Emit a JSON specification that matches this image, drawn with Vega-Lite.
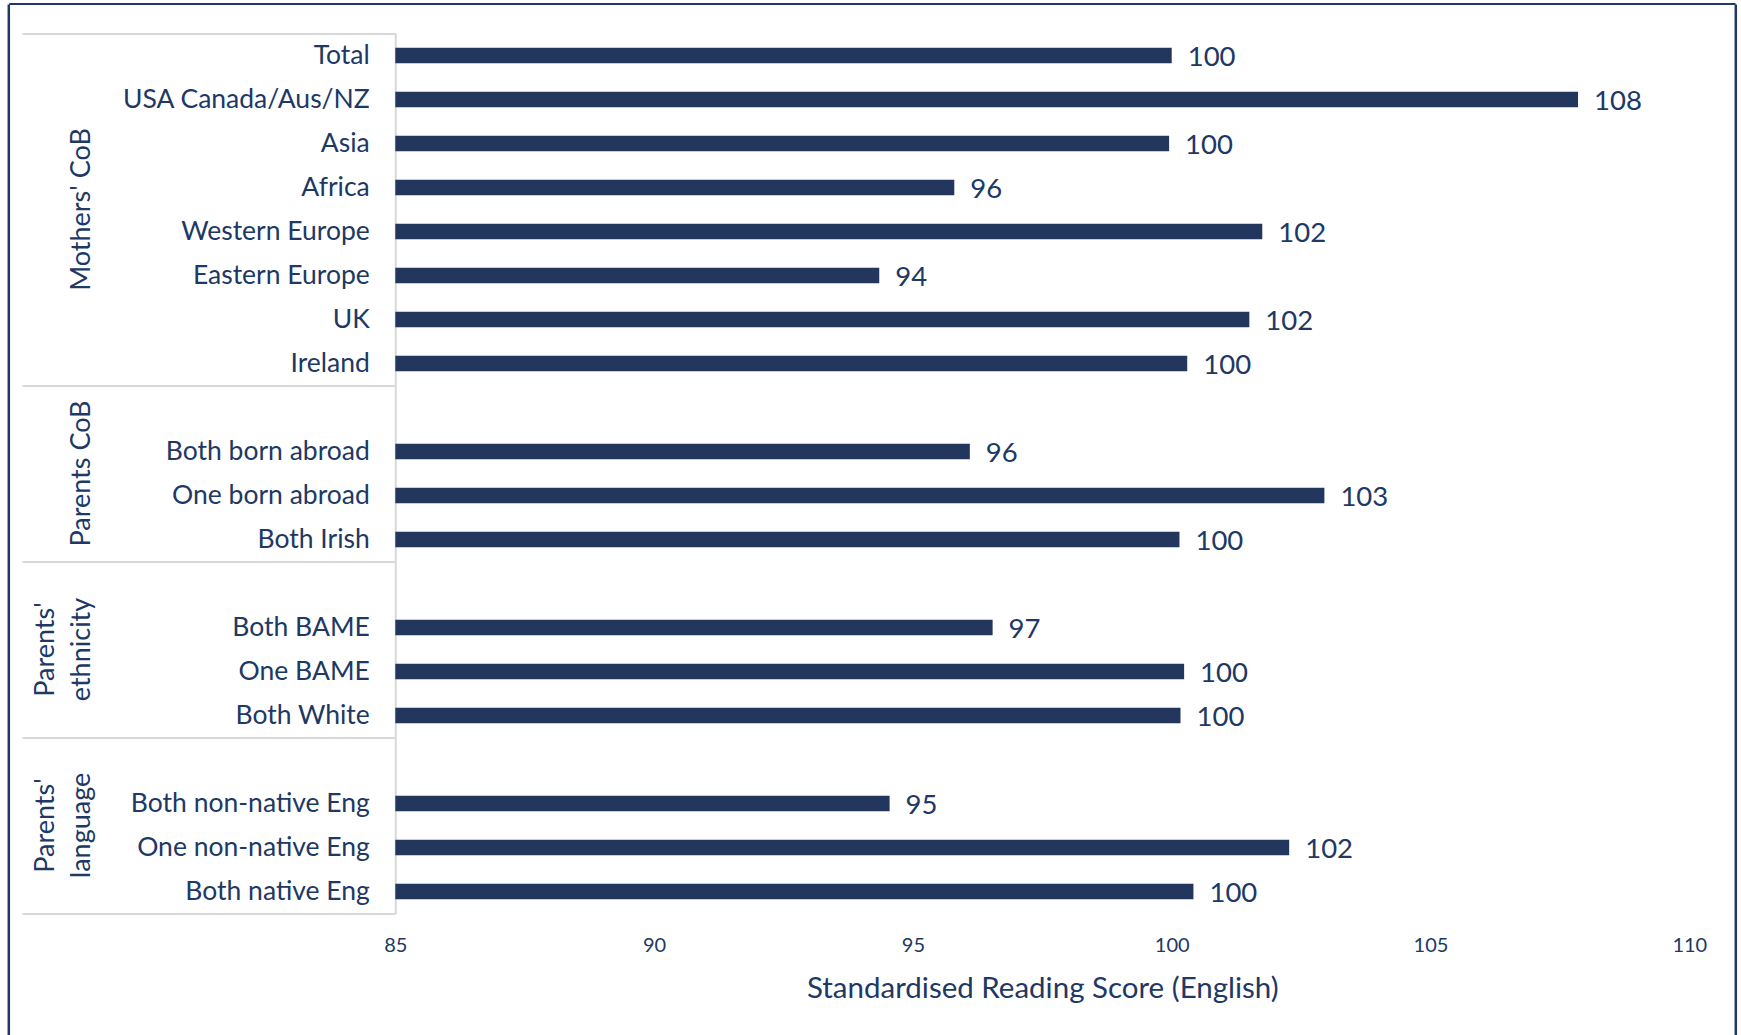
{
  "$schema": "https://vega.github.io/schema/vega-lite/v6.json",
  "width": 1294,
  "height": 880,
  "autosize": {"type": "none"},
  "padding": {"left": 395.3, "top": 33.5, "right": 51.7, "bottom": 121.5},
  "background": "white",
  "config": {"view": {"stroke": null}, "font": "Lato", "axis": {"grid": false}},
  "data": {
    "values": [
      {"group": "Mothers' CoB", "category": "Total", "score": 100.0},
      {"group": "Mothers' CoB", "category": "USA Canada/Aus/NZ", "score": 107.85},
      {"group": "Mothers' CoB", "category": "Asia", "score": 99.95},
      {"group": "Mothers' CoB", "category": "Africa", "score": 95.8},
      {"group": "Mothers' CoB", "category": "Western Europe", "score": 101.75},
      {"group": "Mothers' CoB", "category": "Eastern Europe", "score": 94.35},
      {"group": "Mothers' CoB", "category": "UK", "score": 101.5},
      {"group": "Mothers' CoB", "category": "Ireland", "score": 100.3},
      {"group": "Parents CoB", "category": "Both born abroad", "score": 96.1},
      {"group": "Parents CoB", "category": "One born abroad", "score": 102.95},
      {"group": "Parents CoB", "category": "Both Irish", "score": 100.15},
      {"group": "Parents' ethnicity", "category": "Both BAME", "score": 96.54},
      {"group": "Parents' ethnicity", "category": "One BAME", "score": 100.24},
      {"group": "Parents' ethnicity", "category": "Both White", "score": 100.17},
      {"group": "Parents' language", "category": "Both non-native Eng", "score": 94.55},
      {"group": "Parents' language", "category": "One non-native Eng", "score": 102.27},
      {"group": "Parents' language", "category": "Both native Eng", "score": 100.42}
    ]
  },
  "resolve": {"axis": {"x": "independent", "y": "independent"}},
  "layer": [
    {
      "mark": {"type": "bar", "color": "#22365e", "height": {"band": 0.35}},
      "encoding": {
        "y": {
          "field": "category",
          "type": "nominal",
          "scale": {
            "domain": ["Total", "USA Canada/Aus/NZ", "Asia", "Africa", "Western Europe", "Eastern Europe", "UK", "Ireland", " ", "Both born abroad", "One born abroad", "Both Irish", "  ", "Both BAME", "One BAME", "Both White", "   ", "Both non-native Eng", "One non-native Eng", "Both native Eng"],
            "paddingInner": 0,
            "paddingOuter": 0
          },
          "axis": {
            "orient": "left",
            "title": null,
            "ticks": false,
            "domain": true,
            "domainColor": "#d9d9d9",
            "domainWidth": 2,
            "labelFontSize": 26.5,
            "labelColor": "#203864",
            "labelPadding": 26,
            "labelLimit": 0
          }
        },
        "x": {
          "field": "score",
          "type": "quantitative",
          "scale": {"domain": [85, 110], "nice": false, "zero": false},
          "axis": {
            "orient": "bottom",
            "values": [85, 90, 95, 100, 105, 110],
            "domain": false,
            "ticks": false,
            "labelFlush": false,
            "labelFontSize": 20,
            "labelColor": "#203864",
            "labelPadding": 22,
            "title": "Standardised Reading Score (English)",
            "titleFontSize": 29.5,
            "titleFontWeight": "normal",
            "titleColor": "#203864",
            "titlePadding": 19
          }
        },
        "x2": {"datum": 85}
      }
    },
    {
      "mark": {"type": "text", "align": "left", "baseline": "middle", "dx": 16, "dy": 2, "fontSize": 27.5, "color": "#203864"},
      "encoding": {
        "y": {
          "field": "category",
          "type": "nominal",
          "axis": {
            "orient": "left",
            "offset": 335.6,
            "values": ["Africa", "Both born abroad", "Both BAME", "Both non-native Eng"],
            "labelExpr": "datum.value == 'Africa' ? ['', \"Mothers' CoB\"] : datum.value == 'Both born abroad' ? ['', 'Parents CoB'] : datum.value == 'Both BAME' ? [\"Parents'\", 'ethnicity'] : [\"Parents'\", 'language']",
            "labelAngle": 270,
            "labelAlign": "center",
            "labelBaseline": "bottom",
            "labelOffset": 22,
            "labelLineHeight": 36,
            "labelFontSize": 27,
            "labelColor": "#203864",
            "labelPadding": 0,
            "labelLimit": 0,
            "domain": false,
            "ticks": false,
            "title": null
          }
        },
        "x": {
          "field": "score",
          "type": "quantitative",
          "axis": {
            "orient": "top",
            "offset": -1006.5,
            "values": [85],
            "tickOffset": -386.6,
            "tickSize": 1036,
            "tickColor": "#1f3864",
            "tickWidth": 2.5,
            "domain": false,
            "labels": false,
            "title": null
          }
        },
        "text": {"field": "score", "type": "quantitative", "format": ".0f"}
      }
    },
    {
      "mark": {"type": "point", "opacity": 0, "size": 1},
      "encoding": {
        "y": {
          "field": "category",
          "type": "nominal",
          "axis": {
            "orient": "left",
            "values": ["Total", " ", "  ", "   "],
            "tickOffset": -22,
            "tickSize": 373.3,
            "tickColor": "#d9d9d9",
            "tickWidth": 2,
            "domain": false,
            "labels": false,
            "title": null
          }
        },
        "x": {
          "field": "score",
          "type": "quantitative",
          "axis": {
            "orient": "top",
            "offset": -1006.5,
            "values": [110],
            "tickOffset": 45.7,
            "tickSize": 1036,
            "tickColor": "#1f3864",
            "tickWidth": 2.5,
            "domain": false,
            "labels": false,
            "title": null
          }
        }
      }
    },
    {
      "mark": {"type": "point", "opacity": 0, "size": 1},
      "encoding": {
        "y": {
          "field": "category",
          "type": "nominal",
          "axis": {
            "orient": "left",
            "values": ["Both native Eng"],
            "tickOffset": 22,
            "tickSize": 373.3,
            "tickColor": "#d9d9d9",
            "tickWidth": 2,
            "domain": false,
            "labels": false,
            "title": null
          }
        },
        "x": {"field": "score", "type": "quantitative", "axis": null}
      }
    },
    {
      "mark": {"type": "point", "opacity": 0, "size": 1},
      "encoding": {
        "y": {
          "field": "category",
          "type": "nominal",
          "axis": {
            "orient": "left",
            "offset": -1339.7,
            "values": ["Total"],
            "tickOffset": -51.6,
            "tickSize": 1726.3,
            "tickColor": "#1f3864",
            "tickWidth": 2,
            "domain": false,
            "labels": false,
            "title": null
          }
        },
        "x": {"field": "score", "type": "quantitative", "axis": null}
      }
    }
  ]
}
